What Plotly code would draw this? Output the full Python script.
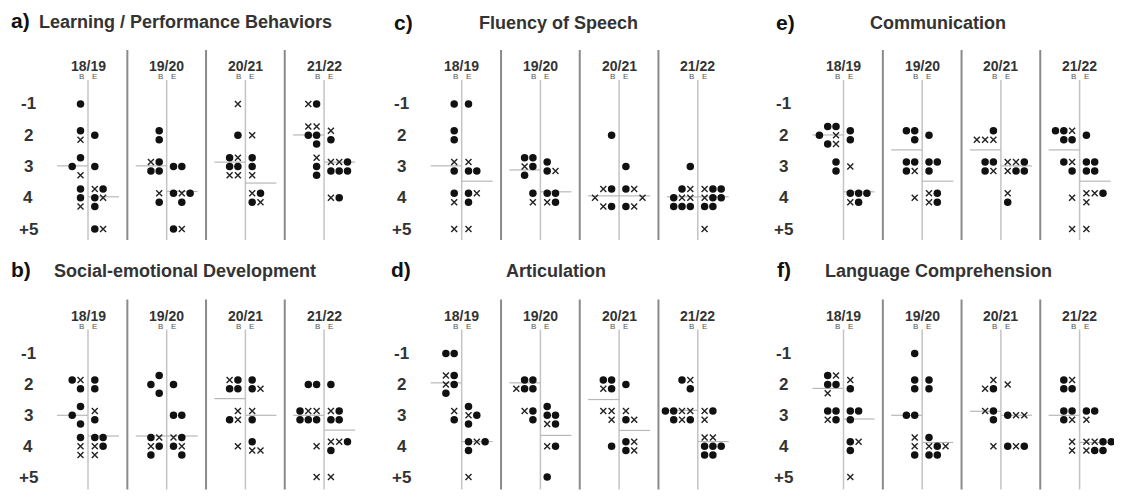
import plotly.graph_objects as go

# ---------------- data ----------------
YEARS = ["18/19", "19/20", "20/21", "21/22"]
GRADE_TICKS = [1, 2, 3, 4, 5]
GRADE_LABELS = ["-1", "2", "3", "4", "+5"]

# cluster notation per year: "grade:row/row/..." ; o = dot, x = cross, _ = empty slot
learn_B = ["1:o 2:o/x 3:o/o_/x 4:o/o/x", "2:o/o 3:xo/oo 4:x/o", "1:x 2:o 3:ox/oo/xx", "1:xo 2:xx/oo/o 3:x/o/o"]
learn_E = ["2:o 3:o 4:xo/ox/o 5:ox", "3:oo 4:oxo/_o 5:ox", "2:x 3:o/o/x 4:xo/ox", "2:x/o 3:xxo/ooo 4:xo"]
learn_mean_B = [2.98, 2.98, 2.86, 1.99]
learn_mean_E = [3.97, 3.80, 3.53, 2.86]

social_B = ["2:ox/o 3:o/o_/o 4:o/x/x", "2:o/o_/o 4:ox/xo/o_", "2:xo/oo 3:x/ox 4:x", "2:oo 3:oxx/ooo 4:x 5:x"]
social_E = ["2:o/o 3:x/o 4:oo/xo/x", "2:o 3:oo 4:xo/ox/_o", "2:o/ox 3:x/o 4:o/xx", "2:o 3:xo/oo 4:xxo/o 5:x"]
social_mean_B = [3.00, 3.67, 2.46, 3.00]
social_mean_E = [3.67, 3.67, 3.00, 3.48]

fluency_B = ["1:o 2:o/o 3:x/o 4:o/x 5:x", "3:oo/xo/o_ 4:o/x", "2:o 4:xo/x__/xo", "3:o 4:ox/oxx/ooo"]
fluency_E = ["1:o 3:x/oo 4:ox/o 5:x", "3:o/ox 4:oo/xo", "3:o 4:ox/__x/ox", "4:xoo/xoo/oo 5:x"]
fluency_mean_B = [2.98, 3.11, 3.94, 3.97]
fluency_mean_E = [3.47, 3.81, 3.94, 3.97]

artic_B = ["1:oo 2:xo/xo/o_ 3:x/o", "2:oo/xoo 3:xo/o", "2:oo/xo 3:xx/x 4:o", "2:ox/o 3:ooxx/oxo"]
artic_E = ["3:o/xo/o 4:oxo/o 5:x", "3:o/oo/xo 4:xo 5:o", "2:o 3:x/ox 4:ox/ox", "3:xo/x 4:xx/ooo/oo"]
artic_mean_B = [1.95, 1.95, 2.49, 2.84]
artic_mean_E = [3.85, 3.65, 3.49, 3.85]

comm_B = ["2:oo/o_x/ox 3:o/o", "2:oo/o 3:oo/ox 4:x", "2:o/xxx 3:oo/ox", "2:oox/oo 3:ox/o 4:x 5:x"]
comm_E = ["2:o/o 3:x 4:ooo/xo", "2:o 3:oo/o 4:xo/xo", "3:xxo/xoo 4:x/o", "2:o 3:oo/oo 4:xxo/x 5:x"]
comm_mean_B = [1.99, 2.47, 2.47, 2.47]
comm_mean_E = [3.81, 3.47, 2.98, 3.47]

lang_B = ["2:ox/oo/x_ 3:oo/xo", "1:o 2:o/o 3:oo 4:x/x/o", "2:x/xo 3:xo/o 4:x", "2:ox/oo 3:oo/ox 4:x/x"]
lang_E = ["2:x/o 3:oo/o 4:ox/o 5:x", "2:o/o 4:o/xox/oo", "2:x 3:oxx 4:oxo", "3:oo/x 4:xxoo/xoo"]
lang_mean_B = [2.13, 3.00, 2.87, 3.00]
lang_mean_E = [3.12, 3.88, 3.00, 3.88]

PANELS = [
    # letter, title, B, E, meanB, meanE, column, row
    ("a)", "Learning / Performance Behaviors", learn_B, learn_E, learn_mean_B, learn_mean_E, 0, 0),
    ("b)", "Social-emotional Development", social_B, social_E, social_mean_B, social_mean_E, 0, 1),
    ("c)", "Fluency of Speech", fluency_B, fluency_E, fluency_mean_B, fluency_mean_E, 1, 0),
    ("d)", "Articulation", artic_B, artic_E, artic_mean_B, artic_mean_E, 1, 1),
    ("e)", "Communication", comm_B, comm_E, comm_mean_B, comm_mean_E, 2, 0),
    ("f)", "Language Comprehension", lang_B, lang_E, lang_mean_B, lang_mean_E, 2, 1),
]

# ---------------- geometry (window pixels) ----------------
WIN_W, WIN_H = 1122, 500
PAD = 8                              # default page body margin
W, H = WIN_W - 2 * PAD, WIN_H - 2 * PAD
S = 78.7                             # px per school year
COL_ORIGIN = [88.0, 461.7, 843.5]
COL_EXT = [(PAD, 372), (372, 752), (752, WIN_W - PAD)]
ROW_G1 = [104.0, 353.5]              # window y of grade 1
ROW_GS = [31.25, 30.9]               # px per grade
ROW_EXT = [(44, 244), (292, WIN_H - PAD)]
ROW_STEP = 8.8
COL_STEP = 8.3
B_OFF, E_OFF = 7.5, 6.8
MEAN_LEN = 31

FONT = "Liberation Sans, Arial, Helvetica, sans-serif"

fig = go.Figure()
layout = dict(width=W, height=H, margin=dict(l=0, r=0, t=0, b=0),
              paper_bgcolor="white", plot_bgcolor="white", showlegend=False)
shapes, annotations = [], []


def px_x(p):
    return (p - PAD) / W


def px_y(p):
    return 1 - (p - PAD) / H


def parse(s):
    out = []
    for tok in s.split():
        g, rows = tok.split(":")
        out.append((int(g), rows.split("/")))
    return out


for k, (letter, title, Bd, Ed, mB, mE, c, r) in enumerate(PANELS):
    ax = "" if k == 0 else str(k + 1)
    org = COL_ORIGIN[c]
    x0, x1 = COL_EXT[c]
    y0, y1 = ROW_EXT[r]
    g1, gs = ROW_G1[r], ROW_GS[r]
    gp = lambda p, g1=g1, gs=gs: 1 + (p - g1) / gs
    layout["xaxis" + ax] = dict(domain=[px_x(x0), px_x(x1)], range=[(x0 - org) / S, (x1 - org) / S],
                                anchor="y" + ax, visible=False, fixedrange=True)
    layout["yaxis" + ax] = dict(domain=[px_y(y1), px_y(y0)], range=[gp(y1), gp(y0)],
                                anchor="x" + ax, visible=False, fixedrange=True)
    xr, yr = "x" + ax, "y" + ax
    dy = ROW_STEP / gs

    # separators
    for i in range(len(YEARS) - 1):
        shapes.append(dict(type="line", xref=xr, yref=yr, x0=i + 0.5, x1=i + 0.5,
                           y0=gp(g1 - 54), y1=gp(g1 + 136), line=dict(color="#8a8a8a", width=2), layer="below"))
    for i in range(len(YEARS)):
        shapes.append(dict(type="line", xref=xr, yref=yr, x0=i, x1=i,
                           y0=gp(g1 - 24), y1=gp(g1 + 136), line=dict(color="#c4c4c4", width=1.5), layer="below"))

    # mean lines
    lx, ly = [], []
    for i in range(len(YEARS)):
        lx += [i - MEAN_LEN / S, i, None, i, i + MEAN_LEN / S, None]
        ly += [mB[i], mB[i], None, mE[i], mE[i], None]
    fig.add_trace(go.Scatter(x=lx, y=ly, mode="lines", line=dict(color="#b8b8b8", width=1.2),
                             hoverinfo="skip", xaxis=xr, yaxis=yr))

    # markers
    dots_x, dots_y, crs_x, crs_y = [], [], [], []
    for i in range(len(YEARS)):
        for side, data in (("B", Bd[i]), ("E", Ed[i])):
            for g, rows in parse(data):
                n = len(rows)
                for ri, row in enumerate(rows):
                    yy = g + (ri - (n - 1) / 2) * dy
                    for j, ch in enumerate(row):
                        if ch == "_":
                            continue
                        if side == "B":
                            col = len(row) - 1 - j
                            xx = i - (B_OFF + col * COL_STEP) / S
                        else:
                            xx = i + (E_OFF + j * COL_STEP) / S
                        if ch == "o":
                            dots_x.append(xx); dots_y.append(yy)
                        else:
                            crs_x.append(xx); crs_y.append(yy)
    fig.add_trace(go.Scatter(x=dots_x, y=dots_y, mode="markers",
                             marker=dict(symbol="circle", size=7.5, color="#111111", line=dict(width=0)),
                             xaxis=xr, yaxis=yr))
    fig.add_trace(go.Scatter(x=crs_x, y=crs_y, mode="markers",
                             marker=dict(symbol="x-thin", size=6, line=dict(width=1.4, color="#222222")),
                             xaxis=xr, yaxis=yr))

    # grade labels
    for g, lab in zip(GRADE_TICKS, GRADE_LABELS):
        annotations.append(dict(xref=xr, yref=yr, x=-60 / S, y=g, text="<b>%s</b>" % lab, showarrow=False,
                                font=dict(family=FONT, size=17, color="#333333"), xanchor="center", yanchor="middle"))
    # year labels
    for i, yl in enumerate(YEARS):
        annotations.append(dict(xref=xr, yref=yr, x=i, y=gp(g1 - 38), text="<b>%s</b>" % yl, showarrow=False,
                                font=dict(family=FONT, size=14, color="#333333"), xanchor="center", yanchor="middle"))
        annotations.append(dict(xref=xr, yref=yr, x=i - 6.5 / S, y=gp(g1 - 27), text="B", showarrow=False,
                                font=dict(family=FONT, size=8, color="#555555"), xanchor="center", yanchor="middle"))
        annotations.append(dict(xref=xr, yref=yr, x=i + 6.5 / S, y=gp(g1 - 27), text="E", showarrow=False,
                                font=dict(family=FONT, size=8, color="#555555"), xanchor="center", yanchor="middle"))

# panel titles (window pixel positions)
TITLE_POS = {
    "a)": ((20, 20), (37, 22, "left")),
    "b)": ((21, 269), (52, 271, "left")),
    "c)": ((404, 22), (558, 23, "center")),
    "d)": ((401, 269), (556, 271, "center")),
    "e)": ((785, 22), (938, 23, "center")),
    "f)": ((784, 269), (938, 271, "center")),
}
for letter, title, *_ in PANELS:
    (lx_, ly_), (tx, ty, anc) = TITLE_POS[letter]
    annotations.append(dict(xref="paper", yref="paper", x=px_x(lx_), y=px_y(ly_), text="<b>%s</b>" % letter,
                            showarrow=False, font=dict(family=FONT, size=21, color="#111111"),
                            xanchor="center", yanchor="middle"))
    annotations.append(dict(xref="paper", yref="paper", x=px_x(tx), y=px_y(ty), text="<b>%s</b>" % title,
                            showarrow=False, font=dict(family=FONT, size=18, color="#333333"),
                            xanchor=anc, yanchor="middle"))

layout["shapes"] = shapes
layout["annotations"] = annotations
fig.update_layout(**layout)
fig.write_html("out.html")
